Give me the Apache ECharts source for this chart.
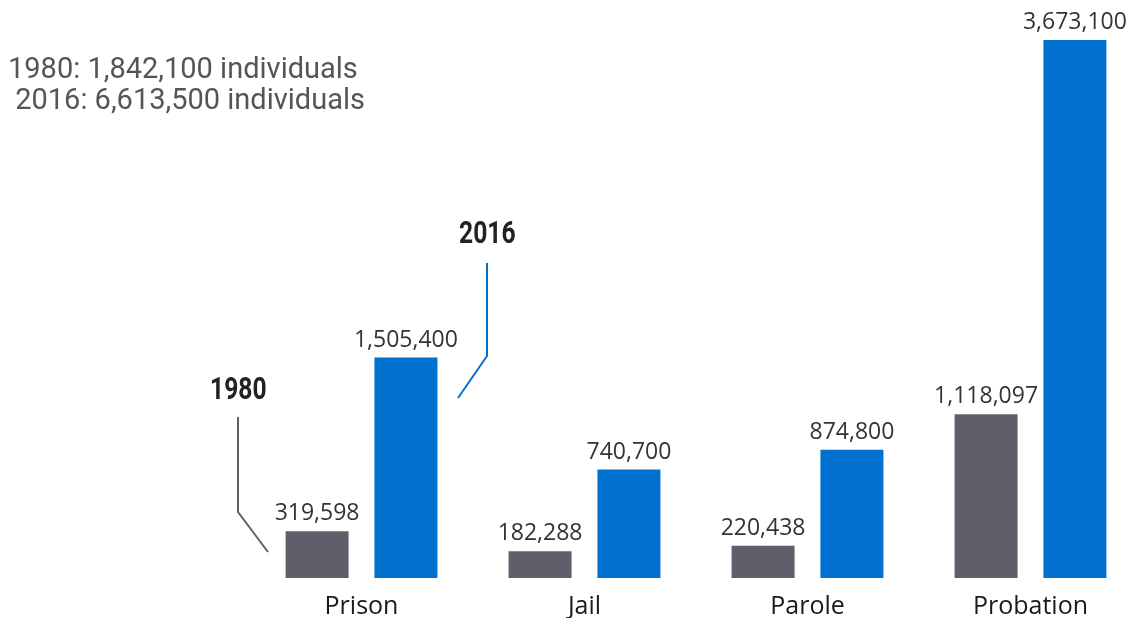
<!DOCTYPE html>
<html>
<head>
<meta charset="utf-8">
<script src="https://cdn.jsdelivr.net/npm/echarts@6/dist/echarts.min.js"></script>
<style>
  html, body { margin: 0; padding: 0; background: #fff; }
  #main { width: 1126px; height: 618px; }
</style>
</head>
<body>
<div id="main"></div>
<script>
// data
var categories = ['Prison', 'Jail', 'Parole', 'Probation'];
var values1980 = [319598, 182288, 220438, 1118097];
var values2016 = [1505400, 740700, 874800, 3673100];
var totals = ['1980: 1,842,100 individuals', ' 2016: 6,613,500 individuals'];

var grey = '#5e5f6b';
var blue = '#0071ce';

function fmt(p) {
  return p.value.toLocaleString('en-US');
}

var valueLabel = {
  show: true,
  position: 'top',
  distance: 6,
  formatter: fmt,
  fontFamily: 'Open Sans',
  fontSize: 23,
  color: '#333'
};

var chart = echarts.init(document.getElementById('main'));
chart.setOption({
  animation: false,
  grid: {
    left: 250,
    width: 892,
    top: 40,
    bottom: 40,
    outerBoundsMode: 'none'
  },
  xAxis: {
    type: 'category',
    data: categories,
    axisLine: { show: false },
    axisTick: { show: false },
    axisLabel: {
      margin: 16,
      fontFamily: 'Open Sans',
      fontSize: 25,
      color: '#1a1a1a'
    }
  },
  yAxis: {
    type: 'value',
    show: false,
    min: 0,
    max: 3673100
  },
  series: [
    {
      name: '1980',
      type: 'bar',
      data: values1980,
      barWidth: 63,
      barGap: '41%',
      itemStyle: { color: grey },
      label: valueLabel
    },
    {
      name: '2016',
      type: 'bar',
      data: values2016,
      barWidth: 63,
      itemStyle: { color: blue },
      label: valueLabel
    }
  ],
  graphic: [
    {
      type: 'text',
      left: 8,
      top: 55,
      style: {
        text: totals.join('\n'),
        fontFamily: 'Roboto',
        fontSize: 29,
        lineHeight: 31,
        fill: '#555'
      }
    },
    // year annotations with leader lines
    {
      type: 'text',
      x: 210,
      y: 375,
      scaleX: 0.77,
      style: {
        text: '1980',
        fontFamily: 'Roboto',
        fontWeight: 'bold',
        fontSize: 32,
        fill: '#222',
        verticalAlign: 'top'
      }
    },
    {
      type: 'polyline',
      shape: { points: [[238, 417], [238, 512], [268, 552]] },
      style: { stroke: grey, lineWidth: 2, fill: null }
    },
    {
      type: 'text',
      x: 459,
      y: 219,
      scaleX: 0.77,
      style: {
        text: '2016',
        fontFamily: 'Roboto',
        fontWeight: 'bold',
        fontSize: 32,
        fill: '#222',
        verticalAlign: 'top'
      }
    },
    {
      type: 'polyline',
      shape: { points: [[487, 263], [487, 356], [458, 398]] },
      style: { stroke: blue, lineWidth: 2, fill: null }
    }
  ]
});
</script>
</body>
</html>
